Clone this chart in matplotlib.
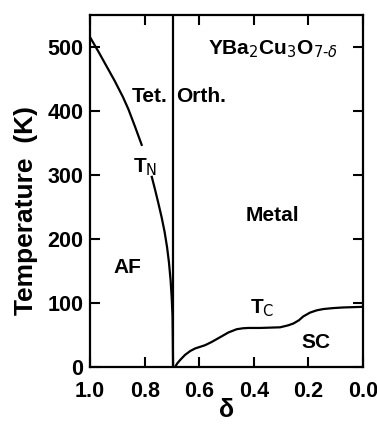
import numpy as np
import matplotlib.pyplot as plt

plt.rcParams['font.family'] = ['Liberation Sans', 'DejaVu Sans']

# Neel temperature T_N (upper branch, above the label)
tn_up_d = [1.0, 0.97, 0.94, 0.91, 0.88, 0.86, 0.835, 0.811]
tn_up_t = [515, 493, 470, 447, 422, 403, 375, 347]
# T_N lower branch (below the label)
tn_lo_d = [0.774, 0.762, 0.750, 0.738, 0.727, 0.718, 0.711, 0.705, 0.701,
           0.698, 0.697, 0.696]
tn_lo_t = [297, 277, 256, 234, 211, 187, 163, 135, 108, 80, 45, 0]
# superconducting T_c
tc_d = [0.689, 0.680, 0.670, 0.652, 0.633, 0.615, 0.579, 0.555, 0.530, 0.493,
        0.463, 0.440, 0.420, 0.377, 0.304, 0.275, 0.255, 0.235, 0.219, 0.194,
        0.170, 0.146, 0.110, 0.073, 0.0]
tc_t = [0, 6, 11, 19, 25, 29, 34, 39, 45, 54, 59, 60.5, 61, 61, 62, 65, 68, 73,
        79, 85, 88.5, 90.5, 92, 93, 94]
# tetragonal / orthorhombic boundary
boundary_d = 0.696

xticks = [1.0, 0.8, 0.6, 0.4, 0.2, 0.0]
yticks = [0, 100, 200, 300, 400, 500]

fig = plt.figure(figsize=(3.77, 4.26), dpi=100)
ax = fig.add_axes([0.239, 0.1385, 0.724, 0.8265])

lw = 1.6
ax.plot(tn_up_d, tn_up_t, color='black', linewidth=lw)
ax.plot(tn_lo_d, tn_lo_t, color='black', linewidth=lw)
ax.plot(tc_d, tc_t, color='black', linewidth=lw)
ax.axvline(boundary_d, color='black', linewidth=lw)

ax.set_xlim(1.0, 0.0)
ax.set_ylim(0, 550)
ax.set_xticks(xticks)
ax.set_xticklabels([f'{v:.1f}' for v in xticks])
ax.set_yticks(yticks)
ax.tick_params(direction='in', length=7, width=1.5, top=True, right=True,
               labelsize=15.5)
ax.tick_params(axis='x', pad=10)
ax.tick_params(axis='y', pad=5)
for lab in ax.get_xticklabels() + ax.get_yticklabels():
    lab.set_fontweight('bold')
for s in ax.spines.values():
    s.set_linewidth(1.6)

ax.set_xlabel('δ', fontsize=18, fontweight='bold', labelpad=-3)
ax.set_ylabel('Temperature  (K)', fontsize=19, fontweight='bold')
ax.yaxis.set_label_coords(-0.19, 0.445)

kw = dict(fontsize=15, fontweight='bold', ha='center', va='center')
ax.text(0.782, 422, 'Tet.', **kw)
ax.text(0.595, 422, 'Orth.', **kw)
ax.text(0.33, 497, r'YBa$_2$Cu$_3$O$_{7\text{-}\delta}$', **kw)
ax.text(0.80, 312, r'T$_\mathrm{N}$', **kw)
ax.text(0.333, 237, 'Metal', **kw)
ax.text(0.864, 156, 'AF', **kw)
ax.text(0.37, 92, r'T$_\mathrm{C}$', **kw)
ax.text(0.172, 38, 'SC', **kw)

fig.savefig('out.png', dpi=100)
